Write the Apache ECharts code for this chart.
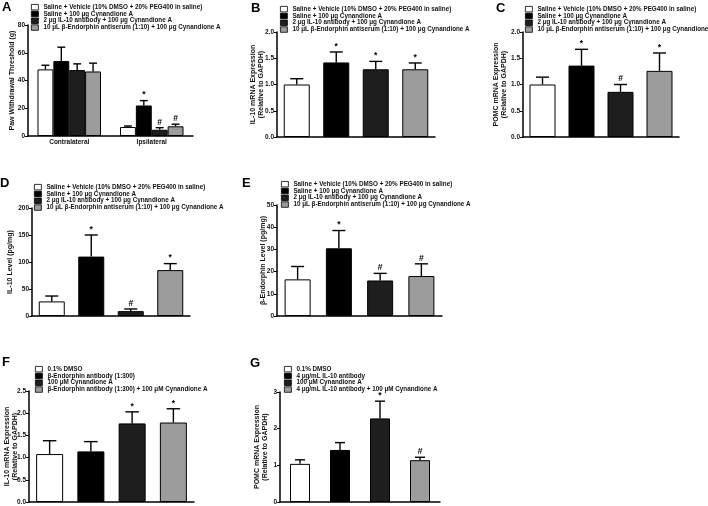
<!DOCTYPE html>
<html style="height: 100%">
<head>
<meta charset="utf-8">
<script src="https://cdn.jsdelivr.net/npm/echarts@6/dist/echarts.min.js"></script>
</head>
<body style="height: 100%; margin: 0; background: #fff">
<div id="container" style="width: 708px; height: 506px"></div>
<script type="text/javascript">

// ---- data ----
var groupNames = ['Saline + Vehicle (10% DMSO + 20% PEG400 in saline)', 'Saline + 100 μg Cynandione A',
  '2 μg IL-10 antibody + 100 μg Cynandione A', '10 μL β-Endorphin antiserum (1:10) + 100 μg Cynandione A'];
var namesF = ['0.1% DMSO', 'β-Endorphin antibody (1:300)', '100 μM Cynandione A', 'β-Endorphin antibody (1:300) + 100 μM Cynandione A'];
var namesG = ['0.1% DMSO', '4 μg/mL IL-10 antibody', '100 μM Cynandione A', '4 μg/mL IL-10 antibody + 100 μM Cynandione A'];

var aCats = ['Contralateral', 'Ipsilateral'];
var aMean = [[48, 6.5], [54, 22], [47.5, 4.5], [46.5, 7]];
var aErr = [[3, 0.7], [10, 3.5], [4.5, 1.5], [6, 1.5]];
var aMark = [['', ''], ['', '*'], ['', '#'], ['', '#']];

var bMean = [1.0, 1.42, 1.29, 1.29];
var bErr = [0.11, 0.20, 0.15, 0.12];
var bMark = ['', '*', '*', '*'];

var cMean = [1.0, 1.36, 0.86, 1.26];
var cErr = [0.14, 0.31, 0.14, 0.34];
var cMark = ['', '*', '#', '*'];

var dMean = [27, 110, 9, 85];
var dErr = [10, 40, 4, 12];
var dMark = ['', '*', '#', '*'];

var eMean = [16.5, 30.5, 16, 18];
var eErr = [5.8, 8, 3.2, 5.5];
var eMark = ['', '*', '#', '#'];

var fMean = [1.08, 1.14, 1.77, 1.79];
var fErr = [0.30, 0.22, 0.26, 0.31];
var fMark = ['', '', '*', '*'];

var gMean = [1.04, 1.42, 2.28, 1.14];
var gErr = [0.11, 0.20, 0.47, 0.08];
var gMark = ['', '', '*', '#'];

var colors = ['#ffffff', '#000000', '#1e1e1e', '#9c9c9c'];
var FONT = '"Liberation Sans", Arial, sans-serif';

// layout of each panel
var panels = [
  {tag: 'A', names: groupNames, grid: [28, 25, 165, 111], yMax: 80, yInt: 20, dec: 0, yName: 'Paw Withdrawal Threshold (g)', gap: 16,
    legend: [31, 4], title: [2, 1], bw: 0},
  {tag: 'B', names: groupNames, mean: bMean, err: bErr, mark: bMark, grid: [277, 32, 158, 105], yMax: 2, yInt: 0.5, dec: 1,
    yName: 'IL-10 mRNA Expression\n(Relative to GAPDH)', gap: 19.5, legend: [280, 6], title: [251, 2], bw: 26},
  {tag: 'C', names: groupNames, mean: cMean, err: cErr, mark: cMark, grid: [523, 32, 156, 105], yMax: 2, yInt: 0.5, dec: 1,
    yName: 'POMC mRNA Expression\n(Relative to GAPDH)', gap: 23, legend: [525, 6], title: [496, 2], bw: 26},
  {tag: 'D', names: groupNames, mean: dMean, err: dErr, mark: dMark, grid: [32, 208, 158, 108], yMax: 200, yInt: 50, dec: 0,
    yName: 'IL-10 Level (pg/mg)', gap: 22, legend: [34, 184], title: [0, 177], bw: 26},
  {tag: 'E', names: groupNames, mean: eMean, err: eErr, mark: eMark, grid: [277, 205, 165, 111], yMax: 50, yInt: 10, dec: 0,
    yName: 'β-Endorphin Level (pg/mg)', gap: 14, legend: [281, 181], title: [242, 177], bw: 26},
  {tag: 'F', names: namesF, mean: fMean, err: fErr, mark: fMark, grid: [29, 391, 165, 111], yMax: 2.5, yInt: 0.5, dec: 1,
    yName: 'IL-10 mRNA Expression\n(Relative to GAPDH)', gap: 18, legend: [35, 366], title: [2, 356], bw: 27},
  {tag: 'G', names: namesG, mean: gMean, err: gErr, mark: gMark, grid: [280, 392, 160, 110], yMax: 3, yInt: 1, dec: 0,
    yName: 'POMC mRNA Expression\n(Relative to GAPDH)', gap: 18.5, legend: [284, 366], title: [250, 357], bw: 20}
];

function makeErr(marks, grouped, bw) {
  return function (params, api) {
    var ci = api.value(0), m = api.value(1), e = api.value(2), j = api.value(3);
    var w = bw, dx = 0;
    if (grouped) {
      var cw = api.size([1, 0])[0];
      w = cw * 0.77 / 4;
      dx = (j - 1.5) * w;
    }
    var top = api.coord([ci, m + e]), bot = api.coord([ci, m]);
    var x = top[0] + dx, cap = w * 0.5;
    var st = {stroke: '#000', lineWidth: 1.4};
    var ch = [
      {type: 'line', shape: {x1: x, y1: bot[1], x2: x, y2: top[1]}, style: st},
      {type: 'line', shape: {x1: x - cap / 2, y1: top[1], x2: x + cap / 2, y2: top[1]}, style: st}
    ];
    var mk = marks[params.dataIndex];
    if (mk) {
      ch.push({type: 'text', x: x, y: top[1] - 1, style: {text: mk, fontSize: 8.5, fontWeight: 'bold', fontFamily: FONT,
        align: 'center', verticalAlign: 'bottom', fill: '#000'}});
    }
    return {type: 'group', children: ch};
  };
}

var option = {
  animation: false,
  backgroundColor: '#fff',
  title: [], legend: [], grid: [], xAxis: [], yAxis: [], series: []
};

panels.forEach(function (p, k) {
  option.title.push({text: p.tag, left: p.title[0], top: p.title[1], padding: 0,
    textStyle: {fontSize: 13, fontWeight: 'bold', fontFamily: FONT, color: '#000'}});
  option.legend.push({left: p.legend[0], top: p.legend[1], orient: 'vertical', padding: 0, itemGap: 0.5,
    itemWidth: 7, itemHeight: 5.5, icon: 'rect', selectedMode: false, data: p.names,
    itemStyle: {borderColor: '#000', borderWidth: 0.8},
    textStyle: {fontSize: 6.3, fontWeight: 'bold', fontFamily: FONT, color: '#111', lineHeight: 6}});
  option.grid.push({left: p.grid[0], top: p.grid[1], width: p.grid[2], height: p.grid[3]});
  option.xAxis.push({type: 'category', gridIndex: k, data: k === 0 ? aCats : ['1', '2', '3', '4'],
    axisLine: {lineStyle: {color: '#000', width: 1.5}}, axisTick: {show: false},
    axisLabel: {show: k === 0, fontSize: 6.5, fontWeight: 'bold', fontFamily: FONT, color: '#111', margin: 3}});
  option.yAxis.push({type: 'value', gridIndex: k, min: 0, max: p.yMax, interval: p.yInt,
    name: p.yName, nameLocation: 'middle', nameGap: p.gap, nameRotate: 90, nameMoveOverlap: false,
    nameTextStyle: {fontSize: 7, fontWeight: 'bold', fontFamily: FONT, color: '#111', lineHeight: 8,
      verticalAlign: 'middle'},
    axisLine: {show: true, lineStyle: {color: '#000', width: 1.5}},
    axisTick: {show: true, length: 3, lineStyle: {color: '#000', width: 1}},
    splitLine: {show: false},
    axisLabel: {fontSize: 6.5, fontWeight: 'bold', fontFamily: FONT, color: '#111', margin: 3,
      formatter: function (v) { return v.toFixed(p.dec); }}});

  if (k === 0) {
    var errData = [], flatMarks = [];
    aMean.forEach(function (row, j) {
      option.series.push({type: 'bar', name: groupNames[j], xAxisIndex: 0, yAxisIndex: 0, data: row,
        barGap: 0, barCategoryGap: '23%',
        itemStyle: {color: colors[j], borderColor: '#000', borderWidth: 1}});
      row.forEach(function (v, i) {
        errData.push([i, v, aErr[j][i], j]);
        flatMarks.push(aMark[j][i]);
      });
    });
    option.series.push({type: 'custom', xAxisIndex: 0, yAxisIndex: 0, z: 5, data: errData,
      encode: {x: 0, y: 1}, renderItem: makeErr(flatMarks, true, 0)});
  } else {
    p.mean.forEach(function (v, j) {
      option.series.push({type: 'bar', name: p.names[j], xAxisIndex: k, yAxisIndex: k, stack: 'S' + k,
        barWidth: p.bw,
        data: p.mean.map(function (u, i) { return i === j ? u : '-'; }),
        itemStyle: {color: colors[j], borderColor: '#000', borderWidth: 1}});
    });
    option.series.push({type: 'custom', xAxisIndex: k, yAxisIndex: k, z: 5,
      data: p.mean.map(function (v, i) { return [i, v, p.err[i], i]; }),
      encode: {x: 0, y: 1}, renderItem: makeErr(p.mark, false, p.bw)});
  }
});

var myChart = echarts.init(document.getElementById('container'));
myChart.setOption(option);

</script>
</body>
</html>
